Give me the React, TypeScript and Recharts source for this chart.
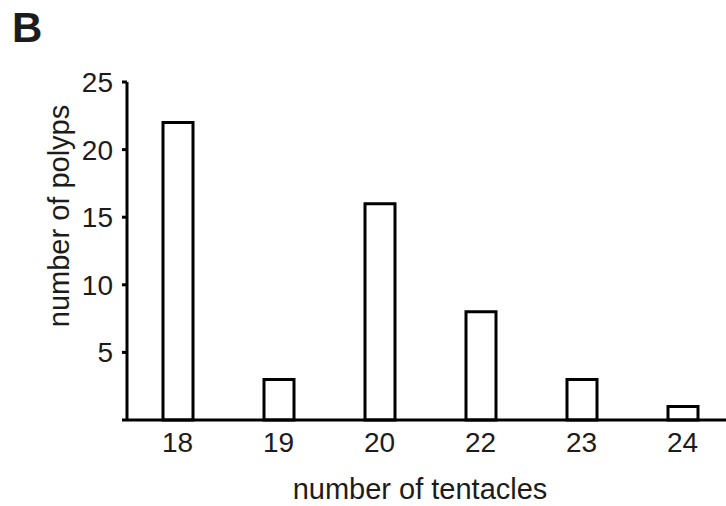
import { BarChart, Bar, XAxis, YAxis } from 'recharts'

const tentacles = ['18', '19', '20', '22', '23', '24']
const polyps = [22, 3, 16, 8, 3, 1]
const yTicks = [0, 5, 10, 15, 20, 25]

const data = tentacles.map((t, i) => ({ tentacles: t, polyps: polyps[i] }))

const FONT = '"Liberation Sans", Arial, Helvetica, sans-serif'
const INK = '#1c1c1c'

export default function App() {
  return (
    <div
      style={{
        position: 'absolute',
        left: 0,
        top: 0,
        width: 726,
        height: 506,
        overflow: 'hidden',
        background: '#fff',
      }}
    >
      <BarChart
        width={740}
        height={506}
        data={data}
        margin={{ top: 82, right: 7, bottom: 0, left: 0 }}
        barCategoryGap={0}
      >
        <XAxis
          dataKey="tentacles"
          axisLine={{ stroke: '#000', strokeWidth: 3 }}
          tickLine={false}
          tickSize={0}
          tickMargin={12}
          tick={{ fontSize: 28, fill: INK, fontFamily: FONT }}
          interval={0}
          height={86}
        />
        <YAxis
          width={127}
          domain={[0, 25]}
          ticks={yTicks}
          tickFormatter={(v) => (v === 0 ? '' : String(v))}
          axisLine={{ stroke: '#000', strokeWidth: 3 }}
          tickLine={{ stroke: '#000', strokeWidth: 3 }}
          tickSize={5}
          tickMargin={9}
          tick={{ fontSize: 28, fill: INK, fontFamily: FONT }}
        />
        <Bar
          dataKey="polyps"
          barSize={30}
          fill="#fff"
          stroke="#000"
          strokeWidth={3}
          isAnimationActive={false}
        />
        <text x={12} y={42} fontSize={42} fontWeight="bold" fill={INK} fontFamily={FONT}>
          B
        </text>
        <text
          x={59}
          y={216}
          fontSize={29}
          fill={INK}
          fontFamily={FONT}
          textAnchor="middle"
          dominantBaseline="central"
          transform="rotate(-90 59 216)"
        >
          number of polyps
        </text>
        <text x={420} y={499} fontSize={29} fill={INK} fontFamily={FONT} textAnchor="middle">
          number of tentacles
        </text>
      </BarChart>
    </div>
  )
}
